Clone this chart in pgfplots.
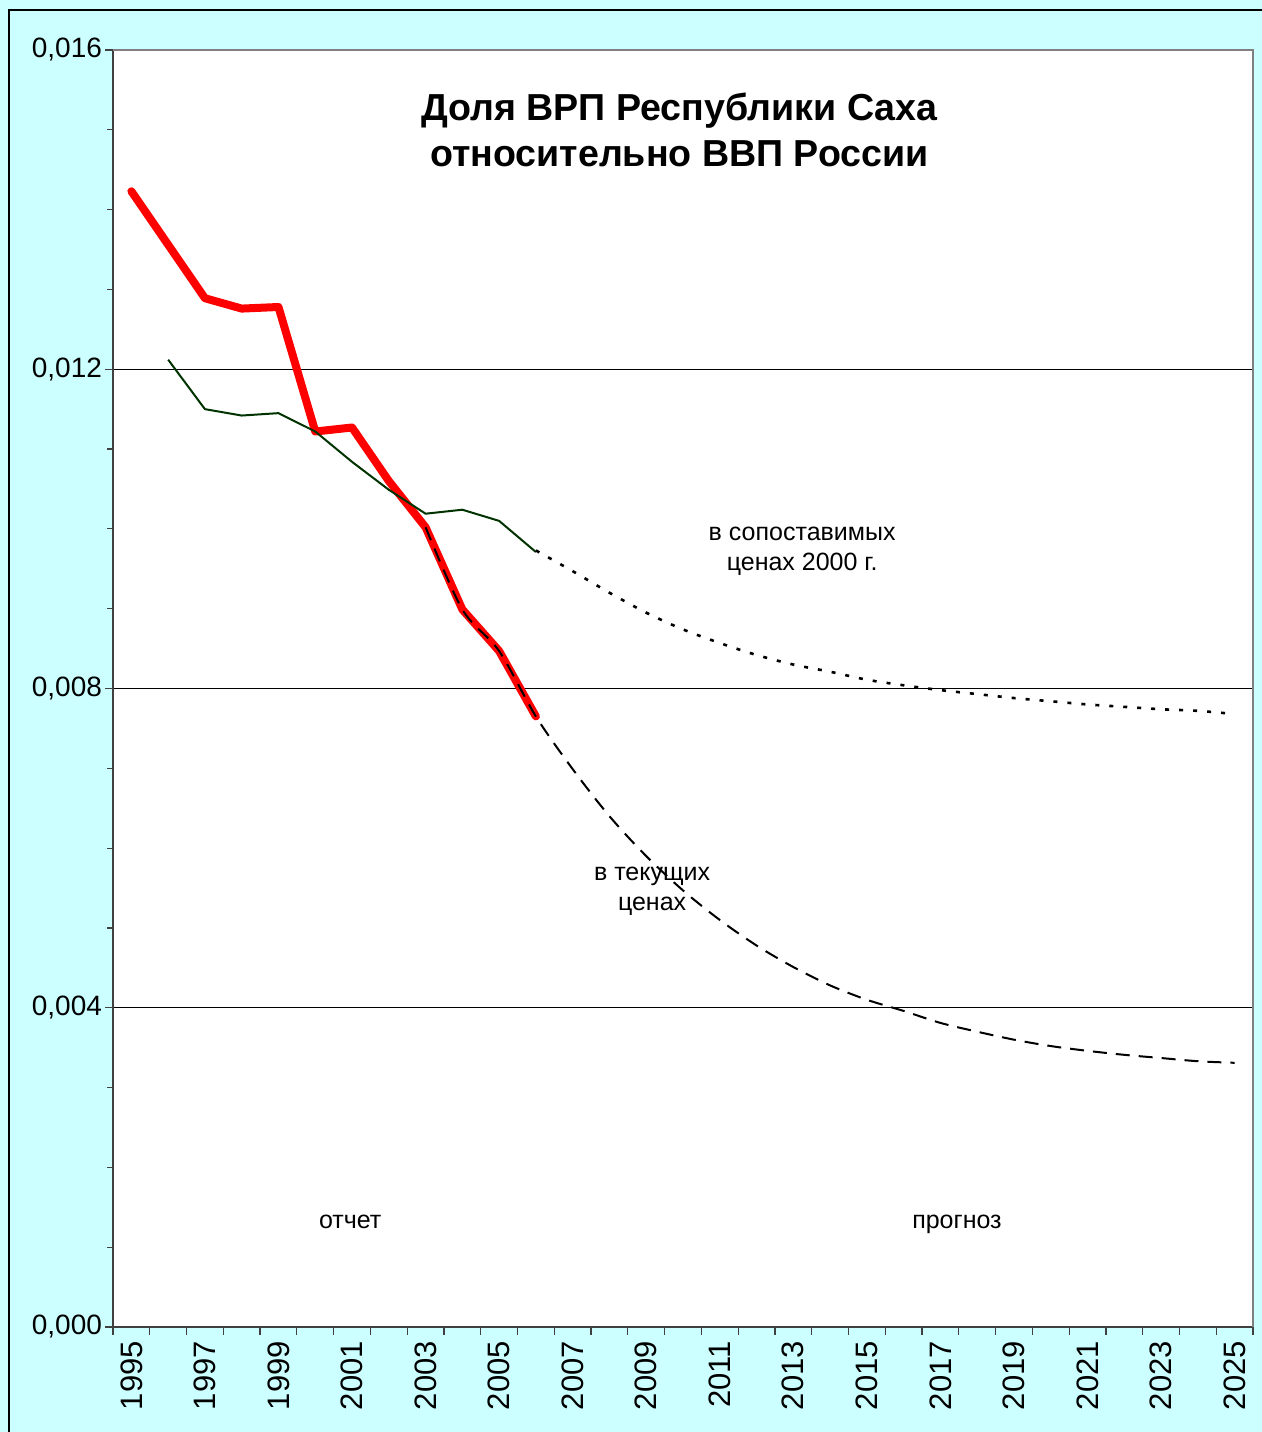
\documentclass[border=0pt]{standalone}
\usepackage{fontspec}
\setmainfont{Liberation Sans}
\usepackage{pgfplots}
\pgfplotsset{compat=1.18}
\definecolor{bgcyan}{HTML}{CCFFFF}
\definecolor{sahagreen}{HTML}{003300}
\definecolor{axgray}{HTML}{404040}

\begin{document}
\begin{tikzpicture}
% chart area (1 px of the reference = 0.5pt)
\path[use as bounding box] (-56.5pt,-52.5pt) rectangle (574.5pt,663.5pt);
\fill[bgcyan] (-56.5pt,-52.5pt) rectangle (574.5pt,663.5pt);
\draw[black, line width=1pt] (-52pt,-60pt) -- (-52pt,658.5pt) -- (580pt,658.5pt);

\begin{axis}[
  name=ax,
  at={(0,0)}, anchor=south west,
  scale only axis,
  width=570pt, height=638.5pt,
  xmin=1994.5, xmax=2025.5,
  ymin=0, ymax=0.016,
  axis background/.style={fill=white},
  axis x line*=bottom, axis y line*=left,
  axis line style={draw=axgray, line width=1pt},
  tick align=outside,
  tick style={axgray, line width=0.6pt},
  major tick length=4pt, minor tick length=3pt,
  xtick={1994.5,1995.5,...,2025.5},
  xticklabels={},
  extra x ticks={1995,1997,1999,2001,2003,2005,2007,2009,2011,2013,2015,2017,2019,2021,2023,2025},
  extra x tick labels={1995,1997,1999,2001,2003,2005,2007,2009,2011,2013,2015,2017,2019,2021,2023,2025},
  extra x tick style={major tick length=0pt, grid=none},
  xticklabel shift=3.5pt,
  x tick label style={rotate=90, anchor=east,
    font=\fontsize{15.5}{16}\selectfont},
  ytick={0,0.004,0.008,0.012,0.016},
  minor y tick num=3,
  scaled y ticks=false,
  yticklabel shift=-2pt,
  y tick label style={font=\fontsize{14}{16}\selectfont,
    /pgf/number format/.cd, fixed, fixed zerofill, precision=3,
    use comma, assume math mode=true},
  ymajorgrids,
  major grid style={black, line width=0.5pt},
]

% отчет, в текущих ценах
\addplot[red, line width=4pt, line join=round, line cap=round] coordinates {
 (1995,0.01423) (1996,0.01356) (1997,0.01289) (1998,0.01276) (1999,0.01278)
 (2000,0.01122) (2001,0.01127) (2002,0.01060) (2003,0.01002) (2004,0.00899)
 (2005,0.00847) (2006,0.00765)
};

% отчет, в сопоставимых ценах 2000 г.
\addplot[sahagreen, line width=1pt, line join=round] coordinates {
 (1996,0.01212) (1997,0.01150) (1998,0.01142) (1999,0.01145) (2000,0.01122)
 (2001,0.01084) (2002,0.01049) (2003,0.01019) (2004,0.01024) (2005,0.01010)
 (2006,0.00971)
};

% прогноз, в текущих ценах
\addplot[black, line width=1pt, dash pattern=on 7pt off 4.5pt, smooth] coordinates {
 (2003,0.01002) (2004,0.00899) (2005,0.00847) (2006,0.00765)
 (2007,0.00699) (2008,0.00640) (2009,0.00590) (2010,0.00547) (2011,0.00510)
 (2012,0.00478) (2013,0.00451) (2014,0.00428) (2015,0.00410) (2016,0.00396)
 (2017,0.00381) (2018,0.00370) (2019,0.00360) (2020,0.00352) (2021,0.00346)
 (2022,0.00341) (2023,0.00337) (2024,0.00333) (2025,0.00331)
};

% прогноз, в сопоставимых ценах 2000 г.
\addplot[black, line width=1.3pt, dash pattern=on 2pt off 5pt, smooth] coordinates {
 (2006,0.00973) (2007,0.00947) (2008,0.00920) (2009,0.00895) (2010,0.00874)
 (2011,0.00857) (2012,0.00842) (2013,0.00830) (2014,0.00821) (2015,0.00811)
 (2016,0.00804) (2017,0.00798) (2018,0.00793) (2019,0.00788) (2020,0.00784)
 (2021,0.00780) (2022,0.00777) (2023,0.00774) (2024,0.00772) (2025,0.00768)
};

\node[align=center, font=\bfseries\fontsize{18.8}{23}\selectfont]
  at (axis cs:2009.9,0.0150) {Доля ВРП Республики Саха\\относительно ВВП России};
\node[align=center, font=\fontsize{12.5}{15}\selectfont]
  at (axis cs:2013.24,0.00972) {в сопоставимых\\ценах 2000 г.};
\node[align=center, font=\fontsize{12.5}{15}\selectfont]
  at (axis cs:2009.16,0.00546) {в текущих\\ценах};
\node[anchor=base, font=\fontsize{12.5}{15}\selectfont] at (axis cs:2000.95,0.00123) {отчет};
\node[anchor=base, font=\fontsize{12.5}{15}\selectfont] at (axis cs:2017.45,0.00123) {прогноз};
\end{axis}

\draw[gray, line width=1pt] (ax.north west) -- (ax.north east) -- (ax.south east);
\end{tikzpicture}
\end{document}
